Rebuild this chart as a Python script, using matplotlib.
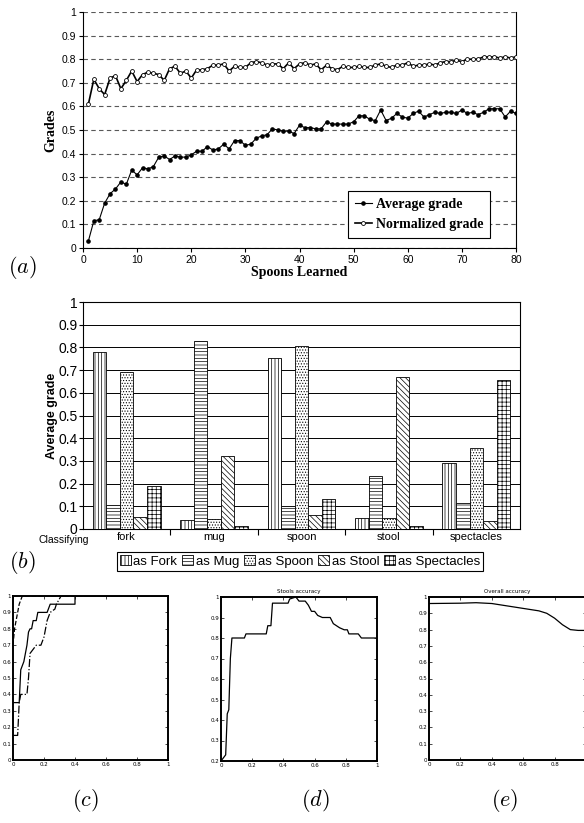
import numpy as np
import matplotlib
matplotlib.use("Agg")
import matplotlib.pyplot as plt

# ---- data ----
spoons = np.arange(1, 81)
avg_grade = [0.03, 0.115, 0.12, 0.19, 0.23, 0.25, 0.28, 0.27, 0.33, 0.31,
             0.34, 0.335, 0.345, 0.385, 0.39, 0.375, 0.39, 0.385, 0.385, 0.395,
             0.41, 0.41, 0.43, 0.415, 0.42, 0.44, 0.42, 0.455, 0.455, 0.435,
             0.44, 0.465, 0.475, 0.48, 0.505, 0.5, 0.495, 0.495, 0.485, 0.52,
             0.51, 0.51, 0.505, 0.505, 0.535, 0.525, 0.525, 0.525, 0.525, 0.535,
             0.56, 0.56, 0.545, 0.54, 0.585, 0.54, 0.55, 0.57, 0.555, 0.55,
             0.57, 0.58, 0.555, 0.565, 0.575, 0.57, 0.575, 0.575, 0.57, 0.585,
             0.57, 0.575, 0.565, 0.575, 0.59, 0.59, 0.59, 0.555, 0.58, 0.57]
norm_grade = [0.61, 0.715, 0.675, 0.65, 0.72, 0.73, 0.675, 0.71, 0.75, 0.705,
              0.735, 0.745, 0.74, 0.735, 0.71, 0.76, 0.77, 0.74, 0.75, 0.72,
              0.755, 0.755, 0.76, 0.775, 0.775, 0.78, 0.75, 0.77, 0.765, 0.765,
              0.785, 0.79, 0.785, 0.775, 0.78, 0.78, 0.76, 0.785, 0.76, 0.78,
              0.785, 0.775, 0.78, 0.755, 0.775, 0.76, 0.755, 0.77, 0.765, 0.765,
              0.77, 0.765, 0.765, 0.775, 0.78, 0.77, 0.765, 0.775, 0.775, 0.785,
              0.77, 0.775, 0.775, 0.78, 0.775, 0.785, 0.79, 0.79, 0.795, 0.79,
              0.8, 0.8, 0.8, 0.81, 0.81, 0.81, 0.805, 0.81, 0.805, 0.81]

classes = ["fork", "mug", "spoon", "stool", "spectacles"]
series_names = ["as Fork", "as Mug", "as Spoon", "as Stool", "as Spectacles"]
as_fork = [0.78, 0.04, 0.755, 0.05, 0.29]
as_mug = [0.105, 0.83, 0.10, 0.235, 0.115]
as_spoon = [0.69, 0.045, 0.805, 0.05, 0.355]
as_stool = [0.055, 0.32, 0.06, 0.67, 0.035]
as_spect = [0.19, 0.015, 0.13, 0.015, 0.655]
hatches = ["|||||", "-----", "......", "\\\\\\\\\\\\", "++++"]

c_solid_x = [0, 0.04, 0.05, 0.07, 0.09, 0.10, 0.11, 0.12, 0.13, 0.15, 0.16, 0.22, 0.24, 0.40, 0.40, 1.0]
c_solid_y = [0.35, 0.35, 0.55, 0.60, 0.70, 0.78, 0.80, 0.80, 0.85, 0.85, 0.90, 0.90, 0.95, 0.95, 1.0, 1.0]
c_dash_x = [0, 0.01, 0.02, 0.04, 0.06, 1.0]
c_dash_y = [0.70, 0.80, 0.85, 0.95, 1.0, 1.0]
c_dd_x = [0, 0.03, 0.04, 0.05, 0.09, 0.10, 0.11, 0.15, 0.18, 0.20, 0.22, 0.24, 0.27, 0.28, 0.31, 1.0]
c_dd_y = [0.15, 0.15, 0.35, 0.40, 0.40, 0.50, 0.65, 0.70, 0.70, 0.75, 0.85, 0.90, 0.92, 0.95, 1.0, 1.0]

d_x = [0, 0.01, 0.03, 0.04, 0.05, 0.06, 0.07, 0.15, 0.16, 0.29, 0.30, 0.32, 0.33, 0.43, 0.44, 0.48,
       0.50, 0.54, 0.56, 0.58, 0.60, 0.62, 0.65, 0.70, 0.72, 0.76, 0.79, 0.81, 0.82, 0.88, 0.90, 1.0]
d_y = [0.20, 0.21, 0.23, 0.43, 0.45, 0.70, 0.80, 0.80, 0.82, 0.82, 0.86, 0.86, 0.97, 0.97, 0.99, 1.0,
       0.98, 0.98, 0.96, 0.93, 0.93, 0.91, 0.90, 0.90, 0.87, 0.85, 0.84, 0.84, 0.82, 0.82, 0.80, 0.80]

e_x = [0, 0.2, 0.3, 0.4, 0.5, 0.6, 0.7, 0.75, 0.8, 0.85, 0.9, 0.95, 1.0]
e_y = [0.96, 0.962, 0.965, 0.96, 0.945, 0.93, 0.915, 0.90, 0.87, 0.83, 0.80, 0.795, 0.795]

W, H = 584, 823
plt.rcParams['hatch.linewidth'] = 0.5
plt.rcParams['mathtext.fontset'] = 'cm'


def box(l, t, r, b):
    return [l / W, 1 - b / H, (r - l) / W, (b - t) / H]


fig = plt.figure(figsize=(W / 100, H / 100), dpi=100)
sans = "Liberation Sans"
serif = "Liberation Serif"

# ---- (a) ----
ax = fig.add_axes(box(83, 12, 516, 248))
ax.plot(spoons, norm_grade, '-o', color='k', mfc='white', ms=2.8, mew=0.6, lw=1.2,
        label="Normalized grade", zorder=3)
ax.plot(spoons, avg_grade, '-o', color='k', ms=2.3, lw=0.8, label="Average grade", zorder=3)
ax.set_xlim(0, 80)
ax.set_ylim(0, 1)
ax.set_xticks(range(0, 81, 10))
ax.set_yticks(np.arange(0, 1.01, 0.1))
ax.set_yticklabels(["0", "0.1", "0.2", "0.3", "0.4", "0.5", "0.6", "0.7", "0.8", "0.9", "1"])
ax.yaxis.grid(True, linestyle=(0, (4, 3)), color='0.35', lw=0.8)
ax.spines['top'].set_visible(False)
ax.tick_params(labelsize=7.5, length=3, width=0.8, pad=2)
for lab in ax.get_xticklabels() + ax.get_yticklabels():
    lab.set_family(sans)
ax.set_xlabel("Spoons Learned", family=serif, fontweight='bold', fontsize=10, labelpad=1)
ax.set_ylabel("Grades", family=serif, fontweight='bold', fontsize=10, labelpad=3)
h, l = ax.get_legend_handles_labels()
leg = ax.legend(h[::-1], l[::-1], loc='center', bbox_to_anchor=(419 / W, 1 - 214.5 / H),
                bbox_transform=fig.transFigure, prop={'family': serif, 'weight': 'bold', 'size': 10},
                fancybox=False, edgecolor='k', framealpha=1, handlelength=1.2, handletextpad=0.3,
                borderpad=0.5, labelspacing=0.5)
leg.get_frame().set_linewidth(0.8)
fig.text(22 / W, 1 - 268 / H, "$(a)$", fontsize=16, ha='center', va='center')

# ---- (b) ----
bx = fig.add_axes(box(83, 302, 520, 529))
vals = [as_fork, as_mug, as_spoon, as_stool, as_spect]
xpos = np.arange(len(classes))
bw = 0.155
for i, (v, name, hh) in enumerate(zip(vals, series_names, hatches)):
    bx.bar(xpos + (i - 2) * bw, v, bw, color='white', edgecolor='k', hatch=hh, lw=0.6,
           label=name, zorder=3)
bx.set_xlim(-0.5, 4.5)
bx.set_ylim(0, 1)
bx.set_yticks(np.arange(0, 1.01, 0.1))
bx.set_yticklabels(["0", "0.1", "0.2", "0.3", "0.4", "0.5", "0.6", "0.7", "0.8", "0.9", "1"])
bx.yaxis.grid(True, color='k', lw=0.7)
bx.set_xticks([0.5, 1.5, 2.5, 3.5])
bx.set_xticklabels([])
bx.set_xticks(xpos, minor=True)
bx.set_xticklabels(classes, minor=True, family=sans, fontsize=8)
bx.tick_params(axis='x', which='major', length=4, width=0.8)
bx.tick_params(axis='x', which='minor', length=0, pad=2)
bx.tick_params(axis='y', labelsize=10, length=3, pad=1)
for lab in bx.get_yticklabels():
    lab.set_family(sans)
for s in bx.spines.values():
    s.set_linewidth(0.8)
bx.set_ylabel("Average grade", family=sans, fontweight='bold', fontsize=9, labelpad=0)
bx.text(-0.72, -0.026, "Classifying", family=sans, fontsize=7.5, ha='center', va='top')
bh, bl = bx.get_legend_handles_labels()
lg2 = fig.legend(bh, bl, loc='center', bbox_to_anchor=(300 / W, 1 - 561.5 / H), ncol=5,
                 prop={'family': sans, 'size': 9.5}, fancybox=False, edgecolor='k', framealpha=1,
                 handlelength=0.8, handleheight=0.8, handletextpad=0.2, columnspacing=0.4,
                 borderpad=0.25, borderaxespad=0)
lg2.get_frame().set_linewidth(0.8)
fig.text(22 / W, 1 - 563 / H, "$(b)$", fontsize=16, ha='center', va='center')


# ---- bottom row ----
def matlab_style(a, ymin):
    a.set_xlim(0, 1)
    a.set_ylim(ymin, 1)
    a.set_xticks(np.arange(0, 1.01, 0.2))
    a.set_xticklabels(["0", "0.2", "0.4", "0.6", "0.8", "1"])
    yt = np.round(np.arange(ymin, 1.001, 0.1), 1)
    a.set_yticks(yt)
    a.set_yticklabels(["0" if v == 0 else ("1" if v == 1 else f"{v:g}") for v in yt])
    a.tick_params(direction='in', top=True, right=True, labelsize=4, length=2, width=0.5, pad=1.5)
    for s in a.spines.values():
        s.set_linewidth(1.4)


cx = fig.add_axes(box(13, 596, 168, 760))
cx.plot(c_solid_x, c_solid_y, '-', color='k', lw=0.9)
cx.plot(c_dash_x, c_dash_y, '--', color='k', lw=0.9)
cx.plot(c_dd_x, c_dd_y, '-.', color='k', lw=0.9)
matlab_style(cx, 0)
fig.text(85 / W, 1 - 800 / H, "$(c)$", fontsize=16, ha='center', va='center')

dx = fig.add_axes(box(221, 597, 377, 761))
dx.plot(d_x, d_y, '-', color='k', lw=0.9)
matlab_style(dx, 0.2)
dx.set_title("Stools accuracy", fontsize=4, pad=3)
fig.text(315 / W, 1 - 800 / H, "$(d)$", fontsize=16, ha='center', va='center')

ex = fig.add_axes(box(429, 597, 586, 760))
ex.plot(e_x, e_y, '-', color='k', lw=0.9)
matlab_style(ex, 0)
ex.set_title("Overall accuracy", fontsize=4, pad=3)
fig.text(505 / W, 1 - 800 / H, "$(e)$", fontsize=16, ha='center', va='center')

fig.savefig("out.png", dpi=100)
